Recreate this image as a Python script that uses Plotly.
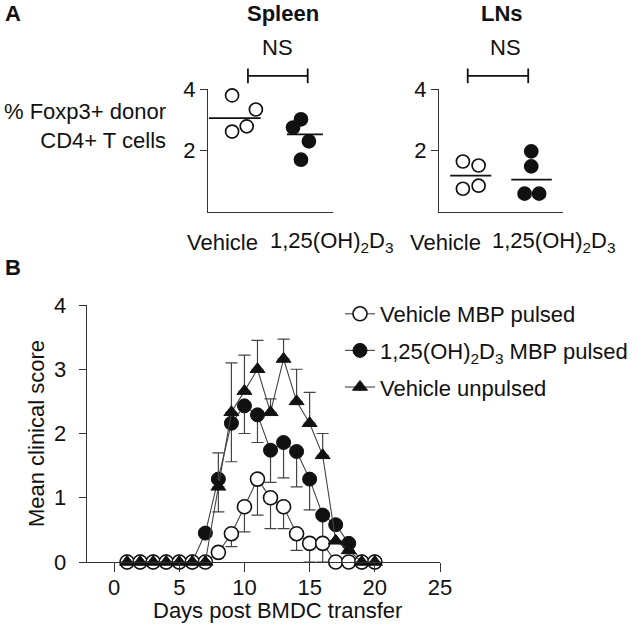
import plotly.graph_objects as go

FONT = "Arial, Liberation Sans, sans-serif"
BLACK = "#111111"
AX = "#333333"
FS = 22

# ---------------- Panel A data ----------------
groups = ["Vehicle", "1,25(OH)<sub>2</sub>D<sub>3</sub>"]
spleen_vehicle = [3.80, 3.34, 2.62, 2.79]
spleen_vd3 = [3.02, 2.75, 2.30, 1.70]
spleen_means = [3.06, 2.53]
ln_vehicle = [1.64, 1.51, 0.75, 0.85]
ln_vd3 = [1.97, 1.48, 0.59, 0.59]
ln_means = [1.18, 1.05]
# horizontal jitter of the dots around their group position
spleen_jit_vehicle = [-0.13, 0.26, -0.13, 0.11]
spleen_jit_vd3 = [0.0, -0.13, 0.13, 0.0]
ln_jit_vehicle = [-0.13, 0.13, -0.13, 0.13]
ln_jit_vd3 = [0.0, 0.0, -0.11, 0.13]

# ---------------- Panel B data ----------------
days = list(range(1, 21))
veh_mbp = [0, 0, 0, 0, 0, 0, 0, 0.15, 0.44, 0.86, 1.29, 1.00, 0.86, 0.44, 0.29, 0.29, 0, 0, 0, 0]
veh_mbp_err = [0, 0, 0, 0, 0, 0, 0, 0, 0.20, 0.39, 0.56, 0.48, 0.34, 0.26, 0.29, 0.29, 0, 0, 0, 0]
vd3_mbp = [0, 0, 0, 0, 0, 0, 0.45, 1.29, 2.16, 2.43, 2.29, 1.74, 1.86, 1.72, 1.29, 0.73, 0.58, 0.29, 0, 0]
vd3_mbp_err = [0, 0, 0, 0, 0, 0, 0, 0.51, 0.60, 0.43, 0.43, 0.50, 0.55, 0.55, 0.48, 0.44, 0, 0, 0, 0]
veh_unp = [0, 0, 0, 0, 0, 0, 0, 1.17, 2.33, 2.66, 3.00, 2.33, 3.16, 2.50, 2.16, 1.66, 0.33, 0.18, 0, 0]
veh_unp_err = [0, 0, 0, 0, 0, 0, 0, 0.53, 0.77, 0.56, 0.45, 0.21, 0.31, 0.50, 0.48, 0.34, 0, 0, 0, 0]

W, H = 639, 627
XR_A = [-0.525, 1.525]

fig = go.Figure()

def dots(xa, ya, pos, jit, vals, filled):
    fig.add_trace(go.Scatter(
        x=[pos + j for j in jit], y=vals, mode="markers", xaxis=xa, yaxis=ya,
        showlegend=False, cliponaxis=False,
        marker=dict(size=13, symbol="circle",
                    color=BLACK if filled else "white",
                    line=dict(color=BLACK, width=1.7))))

def mean_line(xa, ya, pos, lo, hi, m):
    fig.add_trace(go.Scatter(
        x=[pos + lo, pos + hi], y=[m, m], mode="lines", xaxis=xa, yaxis=ya,
        showlegend=False, line=dict(color=BLACK, width=1.8)))

dots("x", "y", 0, spleen_jit_vehicle, spleen_vehicle, False)
dots("x", "y", 1, spleen_jit_vd3, spleen_vd3, True)
mean_line("x", "y", 0, -0.51, 0.34, spleen_means[0])
mean_line("x", "y", 1, -0.23, 0.36, spleen_means[1])
dots("x2", "y2", 0, ln_jit_vehicle, ln_vehicle, False)
dots("x2", "y2", 1, ln_jit_vd3, ln_vd3, True)
mean_line("x2", "y2", 0, -0.34, 0.34, ln_means[0])
mean_line("x2", "y2", 1, -0.33, 0.34, ln_means[1])

# Panel B traces (filled first, open over it, triangles on top)
LINE = dict(color="#444444", width=1.1)
fig.add_trace(go.Scatter(
    x=days, y=vd3_mbp, mode="lines+markers", xaxis="x3", yaxis="y3",
    name="1,25(OH)<sub>2</sub>D<sub>3</sub> MBP pulsed", legendrank=2,
    legendgroup="b", cliponaxis=False, line=LINE,
    marker=dict(size=14, symbol="circle", color=BLACK, line=dict(color=BLACK, width=1)),
    error_y=dict(type="data", symmetric=False, array=[0] * len(days),
                 arrayminus=vd3_mbp_err, color="#444444", thickness=1.2, width=6)))
fig.add_trace(go.Scatter(
    x=days, y=veh_mbp, mode="lines+markers", xaxis="x3", yaxis="y3",
    name="Vehicle MBP pulsed", legendrank=1, legendgroup="a", cliponaxis=False, line=LINE,
    marker=dict(size=14, symbol="circle", color="white", line=dict(color=BLACK, width=1.6)),
    error_y=dict(type="data", symmetric=False, array=[0] * len(days),
                 arrayminus=veh_mbp_err, color="#444444", thickness=1.2, width=6)))
fig.add_trace(go.Scatter(
    x=days, y=veh_unp, mode="lines+markers", xaxis="x3", yaxis="y3",
    name="Vehicle unpulsed", legendrank=3, legendgroup="c", cliponaxis=False, line=LINE,
    marker=dict(size=13, symbol="triangle-up", color=BLACK, line=dict(color=BLACK, width=1)),
    error_y=dict(type="data", symmetric=False, array=veh_unp_err,
                 arrayminus=[0] * len(days), color="#444444", thickness=1.2, width=6)))

def px_x(p):
    return p / W

def px_y(p):
    return 1 - p / H

axis_common = dict(showline=True, linecolor=AX, linewidth=1.2, showgrid=False,
                   zeroline=False, ticks="outside", tickcolor=AX,
                   tickfont=dict(family=FONT, size=FS, color=BLACK))

fig.update_layout(
    width=W, height=H, margin=dict(l=0, r=0, t=0, b=0, autoexpand=False),
    paper_bgcolor="white", plot_bgcolor="white",
    font=dict(family=FONT, size=FS, color=BLACK),
    xaxis=dict(axis_common, domain=[px_x(208), px_x(333)], range=XR_A,
               ticks="", showticklabels=False, anchor="y"),
    yaxis=dict(axis_common, domain=[px_y(211.7), px_y(89.3)], range=[0, 4],
               tickvals=[2, 4], ticklen=7, anchor="x"),
    xaxis2=dict(axis_common, domain=[px_x(439), px_x(563)], range=XR_A,
                ticks="", showticklabels=False, anchor="y2"),
    yaxis2=dict(axis_common, domain=[px_y(211.7), px_y(89.3)], range=[0, 4],
                tickvals=[2, 4], ticklen=7, anchor="x2"),
    xaxis3=dict(axis_common, domain=[px_x(86.7), px_x(440)], range=[-2.1, 25],
                tickvals=[0, 5, 10, 15, 20, 25], ticklen=9, anchor="y3",
                ticklabelstandoff=-4),
    yaxis3=dict(axis_common, domain=[px_y(562), px_y(305)], range=[0, 4],
                tickvals=[0, 1, 2, 3, 4], ticklen=7, anchor="x3",
                ticklabelstandoff=8,
                title=dict(text="Mean clinical score", standoff=3,
                           font=dict(family=FONT, size=FS, color=BLACK))),
    legend=dict(x=px_x(340), y=px_y(293), xanchor="left", yanchor="top",
                font=dict(family=FONT, size=FS, color=BLACK),
                bgcolor="rgba(0,0,0,0)", itemwidth=30, tracegroupgap=5,
                traceorder="grouped"),
)

def frac(v, r):
    return (v - r[0]) / (r[1] - r[0])

ann = []
shapes = []
# Panel letters
ann.append(dict(text="<b>A</b>", x=px_x(3), y=px_y(14), xref="paper", yref="paper",
                xanchor="left", yanchor="middle", showarrow=False, font=dict(size=FS)))
ann.append(dict(text="<b>B</b>", x=px_x(3), y=px_y(268), xref="paper", yref="paper",
                xanchor="left", yanchor="middle", showarrow=False, font=dict(size=FS)))
# Panel A titles / labels
for xa, title, tpos, b0, b1, nspos, lab in [
        ("x", "Spleen", 0.70, 0.13, 1.11, 0.62, [-0.28, 1.51]),
        ("x2", "LNs", 0.51, -0.05, 0.95, 0.57, [-0.41, 1.38])]:
    ya = "y" if xa == "x" else "y2"
    ann.append(dict(text="<b>%s</b>" % title, x=tpos, xref=xa, y=px_y(14), yref="paper",
                    showarrow=False, xanchor="center", yanchor="middle", font=dict(size=FS)))
    ann.append(dict(text="NS", x=nspos, xref=xa, y=px_y(48), yref="paper",
                    showarrow=False, xanchor="center", yanchor="middle", font=dict(size=FS)))
    for g, lx in zip(groups, lab):
        ann.append(dict(text=g, x=lx, xref=xa, y=px_y(242), yref="paper",
                        showarrow=False, xanchor="center", yanchor="middle", font=dict(size=FS)))
    f0, f1 = frac(b0, XR_A), frac(b1, XR_A)
    dref = xa + " domain"
    yref = ya + " domain"
    shapes.append(dict(type="line", xref=dref, yref=yref, x0=f0, x1=f1, y0=1.109, y1=1.109,
                       line=dict(color=BLACK, width=1.8)))
    for f in (f0, f1):
        shapes.append(dict(type="line", xref=dref, yref=yref, x0=f, x1=f, y0=1.05, y1=1.17,
                           line=dict(color=BLACK, width=1.8)))

ann.append(dict(text="% Foxp3+ donor<br>CD4+ T cells", x=px_x(168), y=px_y(126),
                xref="paper", yref="paper", xanchor="right", yanchor="middle", align="right",
                showarrow=False, font=dict(size=FS)))
ann.append(dict(text="Days post BMDC transfer", x=12.5, xref="x3", y=px_y(610), yref="paper",
                xanchor="center", yanchor="middle", showarrow=False, font=dict(size=FS)))

fig.update_layout(annotations=ann, shapes=shapes)
fig.write_html("out.html", config={"displayModeBar": False},
               post_script="document.body.style.margin='0';document.body.style.overflow='hidden';")
